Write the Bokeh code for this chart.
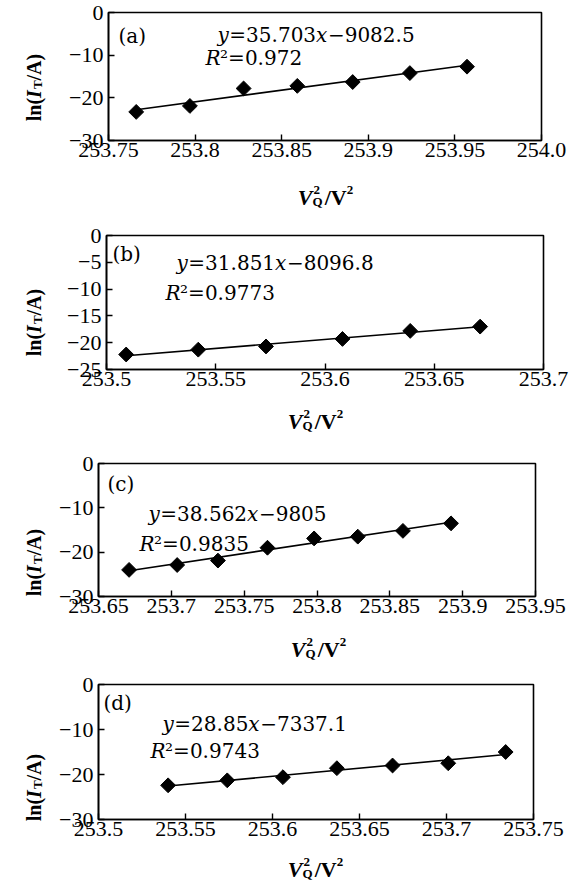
import numpy as np
from bokeh.plotting import figure
from bokeh.layouts import column, row
from bokeh.models import Label, FixedTicker, Range1d
from bokeh.embed import file_html
from bokeh.resources import INLINE

# ---------------- data ----------------
tags = ["(a)", "(b)", "(c)", "(d)"]
slopes = ["35.703", "31.851", "38.562", "28.85"]
intercepts = ["9082.5", "8096.8", "9805", "7337.1"]
r2_values = ["0.972", "0.9773", "0.9835", "0.9743"]

x_a = [253.766, 253.797, 253.828, 253.859, 253.891, 253.924, 253.957]
y_a = [-23.3, -21.9, -17.8, -17.2, -16.3, -14.2, -12.7]
x_b = [253.509, 253.542, 253.573, 253.608, 253.639, 253.671]
y_b = [-22.2, -21.3, -20.7, -19.3, -17.8, -17.0]
x_c = [253.671, 253.704, 253.732, 253.766, 253.798, 253.828, 253.859, 253.892]
y_c = [-24.0, -22.9, -21.9, -19.0, -16.9, -16.5, -15.2, -13.5]
x_d = [253.540, 253.574, 253.606, 253.637, 253.669, 253.701, 253.734]
y_d = [-22.4, -21.3, -20.6, -18.6, -18.0, -17.5, -15.0]

xticks_a = [253.75, 253.8, 253.85, 253.9, 253.95, 254.0]
xlabels_a = ["253.75", "253.8", "253.85", "253.9", "253.95", "254.0"]
xticks_b = [253.5, 253.55, 253.6, 253.65, 253.7]
xlabels_b = ["253.5", "253.55", "253.6", "253.65", "253.7"]
xticks_c = [253.65, 253.7, 253.75, 253.8, 253.85, 253.9, 253.95]
xlabels_c = ["253.65", "253.7", "253.75", "253.8", "253.85", "253.9", "253.95"]
xticks_d = [253.5, 253.55, 253.6, 253.65, 253.7, 253.75]
xlabels_d = ["253.5", "253.55", "253.6", "253.65", "253.7", "253.75"]

yticks_a = [0, -10, -20, -30]
yticks_b = [0, -5, -10, -15, -20, -25]
yticks_c = [0, -10, -20, -30]
yticks_d = [0, -10, -20, -30]

# ---------------- layout (page pixels) ----------------
TICK_FONT = "Liberation Serif"
ANN_FONT = "DejaVu Serif"
TOTAL_W = 580
YT_W = 46
# main figure: top, frame left/top/width/height, bottom border ; x-title strip height
geom = [
    dict(top=0, L=108, T=12, W=433, H=128, bb=36, xh=39),
    dict(top=215, L=106, T=235, W=437, H=134, bb=34, xh=38),
    dict(top=441, L=98, T=463, W=437, H=133, bb=30, xh=39),
    dict(top=665, L=98, T=684, W=435, H=135, bb=28, xh=36),
]
# annotation positions (page px): tag / equation / R2 (left, middle), titles
ann = [
    dict(tag=(118, 35), eq=(217, 34), r2=(205, 57), xt=(325, 197), yt=(33, 75)),
    dict(tag=(112, 253), eq=(176, 262), r2=(165, 292), xt=(315, 421), yt=(33, 302)),
    dict(tag=(107, 483), eq=(148, 513), r2=(139, 543), xt=(318, 649), yt=(33, 540)),
    dict(tag=(103, 702), eq=(162, 723), r2=(150, 750), xt=(315, 869), yt=(33, 768)),
]

# approximate advance widths (em)
DV = {"y": .592, "x": .592, "=": .838, "\u2212": .838, ".": .318, "R": .73, "\u00b2": .401}
TB = {"V": .667, "I": .389, "l": .278, "n": .556, "(": .333, ")": .333, "/": .278,
      "A": .722, "Q": .778, "T": .667, "2": .5}


def w_dv(s, size):
    return sum(DV.get(ch, .636) for ch in s) * size


def w_tb(s, size):
    return sum(TB.get(ch, .5) for ch in s) * size


def frame_label(p, g, px, py, text, size, style="normal"):
    L = g["L"]
    B = g["T"] + g["H"]
    p.add_layout(Label(x=px - L, y=B - py, x_units="screen", y_units="screen",
                       text=text, text_font=ANN_FONT, text_font_size=f"{size}px",
                       text_font_style=style, text_baseline="middle",
                       text_align="left", text_color="black"))


def page_label(f, px, py, text, size, style="bold", angle=0.0):
    f.add_layout(Label(x=px, y=py, text=text, text_font=TICK_FONT,
                       text_font_size=f"{size}px", text_font_style=style,
                       text_baseline="alphabetic", text_align="left",
                       angle=angle, text_color="black"))


def blank(w, h, x0, y0):
    f = figure(frame_width=w, frame_height=h,
               x_range=Range1d(x0, x0 + w), y_range=Range1d(y0 + h, y0),
               min_border_left=0, min_border_right=0, min_border_top=0, min_border_bottom=0,
               output_backend="svg", toolbar_location=None)
    f.axis.visible = False
    f.grid.visible = False
    f.outline_line_color = None
    f.background_fill_color = "white"
    f.border_fill_color = "white"
    return f


def make_panel(i, xs, ys, xticks, xlabels, yticks):
    g = geom[i]
    a = ann[i]
    bt = g["T"] - g["top"]
    br = TOTAL_W - g["L"] - g["W"]
    p = figure(frame_width=g["W"], frame_height=g["H"],
               x_range=(xticks[0], xticks[-1]), y_range=(yticks[-1], yticks[0]),
               min_border_left=g["L"] - YT_W, min_border_right=br,
               min_border_top=bt, min_border_bottom=g["bb"],
               output_backend="svg", toolbar_location=None)
    p.background_fill_color = "white"
    p.border_fill_color = "white"
    p.outline_line_color = "black"
    p.outline_line_width = 1.6
    p.outline_line_alpha = 1.0
    p.xgrid.visible = False
    p.ygrid.visible = False
    ylabels = [("\u2212" + str(abs(t))) if t < 0 else str(t) for t in yticks]
    for ax, ticks, labels in ((p.xaxis[0], xticks, xlabels), (p.yaxis[0], yticks, ylabels)):
        ax.ticker = FixedTicker(ticks=ticks)
        ax.major_label_overrides = {t: lab for t, lab in zip(ticks, labels)}
        ax.major_label_text_font = TICK_FONT
        ax.major_label_text_font_size = "22px"
        ax.major_label_text_color = "black"
        ax.axis_line_width = 1.6
        ax.axis_line_color = "black"
        ax.major_tick_in = 6
        ax.major_tick_out = 0
        ax.major_tick_line_width = 1.4
        ax.minor_tick_line_color = None
    p.xaxis.major_label_standoff = 2
    p.yaxis.major_label_standoff = 5

    # least-squares line through the points
    k, b = np.polyfit(xs, ys, 1)
    xl = [min(xs), max(xs)]
    p.line(xl, [k * v + b for v in xl], line_color="black", line_width=1.6)
    p.scatter(xs, ys, marker="square", angle=np.pi / 4, size=10.5,
              fill_color="black", line_color="black")

    s = 20
    frame_label(p, g, a["tag"][0], a["tag"][1], tags[i], s)
    cx, cy = a["eq"]
    for txt, st in (("y", "italic"), ("=" + slopes[i], "normal"), ("x", "italic"),
                    ("\u2212" + intercepts[i], "normal")):
        frame_label(p, g, cx, cy, txt, s, st)
        cx += w_dv(txt, s)
    cx, cy = a["r2"]
    frame_label(p, g, cx, cy, "R", s, "italic")
    frame_label(p, g, cx + w_dv("R", s), cy, "\u00b2=" + r2_values[i], s)

    # y-title strip (left)
    mh = bt + g["H"] + g["bb"]
    yf = blank(YT_W, mh, 0, g["top"])
    big, small = 20, 13
    ang = np.pi / 2
    length = w_tb("ln(", big) + w_tb("I", big) + w_tb("T", small) + w_tb("/A)", big) + 1
    bx, cy = a["yt"][0], a["yt"][1] + length / 2
    page_label(yf, bx, cy, "ln(", big, "bold", ang)
    cy -= w_tb("ln(", big)
    page_label(yf, bx, cy, "I", big, "bold italic", ang)
    cy -= w_tb("I", big) + 1
    page_label(yf, bx + 4, cy, "T", small, "bold", ang)
    cy -= w_tb("T", small)
    page_label(yf, bx, cy, "/A)", big, "bold", ang)

    # x-title strip (below)
    xf = blank(TOTAL_W, g["xh"], 0, g["top"] + mh)
    big, small = 22, 13
    length = w_tb("V", big) + w_tb("Q", small) + 2 + big * (.278 + .722) + w_tb("2", small)
    cx, by = a["xt"][0] - length / 2, a["xt"][1]
    page_label(xf, cx, by, "V", big, "bold italic")
    cx += w_tb("V", big) + 1
    page_label(xf, cx, by - 8, "2", small, "bold")
    page_label(xf, cx - 1, by + 4, "Q", small, "bold")
    cx += w_tb("Q", small) + 1
    page_label(xf, cx, by, "/V", big, "bold")
    cx += big * (.278 + .722)
    page_label(xf, cx, by - 8, "2", small, "bold")

    return column(row(yf, p, spacing=0), xf, spacing=0)


pa = make_panel(0, x_a, y_a, xticks_a, xlabels_a, yticks_a)
pb = make_panel(1, x_b, y_b, xticks_b, xlabels_b, yticks_b)
pc = make_panel(2, x_c, y_c, xticks_c, xlabels_c, yticks_c)
pd = make_panel(3, x_d, y_d, xticks_d, xlabels_d, yticks_d)

layout = column(pa, pb, pc, pd, spacing=0)
open("out.html", "w").write(file_html(layout, INLINE))
